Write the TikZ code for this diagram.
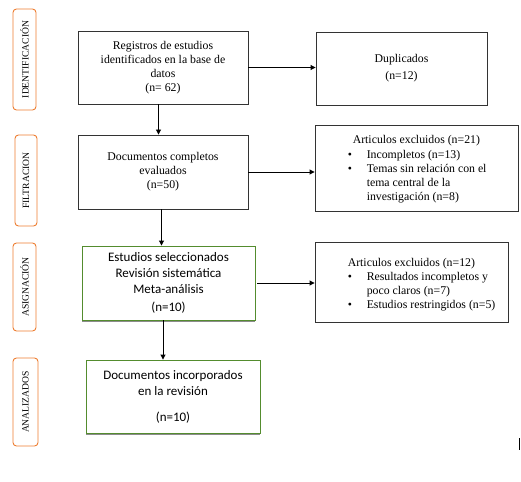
\documentclass[tikz,border=0pt]{standalone}
\usepackage{fontspec}
\setmainfont{Liberation Serif}
\newfontfamily\calibri{Carlito}
\usepackage{xcolor}
\usepackage{tikz}
\usetikzlibrary{arrows.meta,shadows}
\definecolor{tabgold}{RGB}{237, 125, 49}
\definecolor{selgreen}{RGB}{84, 140, 46}

\tikzset{
  box/.style={draw=black!80, line width=0.9pt, align=center, inner sep=0pt,
    font=\fontsize{11.8}{14}\selectfont},
  greenbox/.style={box, draw=selgreen, fill=white,
    font=\calibri\fontsize{13}{16}\selectfont,
    drop shadow={shadow xshift=0pt, shadow yshift=-1.6pt, fill=black!45, opacity=1}},
  phasetab/.style={draw=tabgold, line width=0.9pt, rounded corners=3.5pt, inner sep=0pt,
    font=\fontsize{9.6}{10}\selectfont},
  flow/.style={line width=0.9pt, -{Triangle[length=5pt,width=5pt]}},
}
\newcommand{\bul}{\makebox[20pt][l]{\hspace*{1pt}\textbullet}}

\begin{document}
\begin{tikzpicture}[x=1pt, y=-1pt]
    \useasboundingbox (0,0) rectangle (521,481);

    %% phase tabs
    \node[phasetab, minimum width=23pt, minimum height=101pt] (tabid) at (24.5, 59.5)
      {\rotatebox{90}{IDENTIFICACIÓN}};
    \node[phasetab, minimum width=22pt, minimum height=91pt] (tabfil) at (26, 180.5)
      {\rotatebox{90}{FILTRACION}};
    \node[phasetab, minimum width=23pt, minimum height=88pt] (tabasig) at (24.5, 287)
      {\rotatebox{90}{ASIGNACIÓN}};
    \node[phasetab, minimum width=25pt, minimum height=88pt] (tabanal) at (25.5, 402)
      {\rotatebox{90}{ANALIZADOS}};

    %% main column
    \node[box, minimum width=170pt, minimum height=73pt] (registros) at (163, 67.5)
      {Registros de estudios\\identificados en la base de\\datos\\(n= 62)};
    \node[box, minimum width=170pt, minimum height=74pt] (evaluados) at (163, 172)
      {Documentos completos\\evaluados\\(n=50)};
    \node[greenbox, minimum width=173pt, minimum height=74pt] (seleccion) at (168.5, 283)
      {Estudios seleccionados\\Revisión sistemática\\Meta-análisis\\[2pt](n=10)};
    \node[greenbox, minimum width=174pt, minimum height=73pt] (incorporados) at (173, 396.5)
      {Documentos incorporados\\en la revisión\\[10pt](n=10)};

    %% right column
    \node[box, minimum width=171pt, minimum height=73pt] (duplicados) at (401.5, 68.5)
      {Duplicados\\[3pt](n=12)};
    \node[box, minimum width=203pt, minimum height=86pt] (excl1) at (416.5, 168) {};
    \node[align=left, anchor=west, inner sep=0pt, font=\fontsize{11.8}{14.2}\selectfont]
      (excl1txt) at ([xshift=32pt, yshift=-1.5pt]excl1.west)
      {\hspace*{6pt}Articulos excluidos (n=21)\\
       \bul Incompletos (n=13)\\
       \bul Temas sin relación con el\\
       \hspace*{20pt}tema central de la\\
       \hspace*{20pt}investigación (n=8)};
    \node[box, minimum width=193pt, minimum height=80pt] (excl2) at (411.5, 282) {};
    \node[align=left, anchor=west, inner sep=0pt, font=\fontsize{11.8}{14.2}\selectfont]
      (excl2txt) at ([xshift=32pt, yshift=-2.5pt]excl2.west)
      {\hspace*{1pt}Articulos excluidos (n=12)\\
       \bul Resultados incompletos y\\
       \hspace*{20pt}poco claros (n=7)\\
       \bul Estudios restringidos (n=5)};

    %% connectors
    \draw[flow] ([xshift=-4.5pt]registros.south) -- ([xshift=-4.5pt]registros.south |- evaluados.north);
    \draw[flow] ([xshift=-1.5pt]evaluados.south) -- ([xshift=-1.5pt]evaluados.south |- seleccion.north);
    \draw[flow] ([xshift=-5.5pt]seleccion.south) -- ([xshift=-5.5pt]seleccion.south |- incorporados.north);
    \draw[flow] (registros.east) -- (registros.east -| duplicados.west);
    \draw[flow] (evaluados.east) -- (evaluados.east -| excl1.west);
    \draw[flow] ([xshift=2pt]seleccion.east) -- (seleccion.east -| excl2.west);

    %% stray mark
    \coordinate (marktop) at (519.5, 438);
    \coordinate (markbot) at (519.5, 450);
    \draw[line width=1pt] (marktop) -- (markbot);
\end{tikzpicture}
\end{document}
